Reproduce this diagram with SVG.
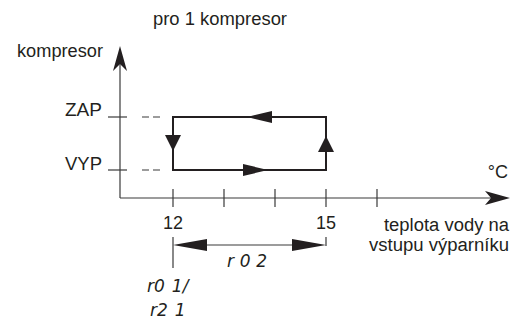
<svg xmlns="http://www.w3.org/2000/svg" width="524" height="322" viewBox="0 0 524 322">
<style>
.t{font-family:"Liberation Sans",Arial,sans-serif;font-size:18px;fill:#231f20}
.seg{font-family:"DejaVu Sans","Liberation Sans",sans-serif;font-style:italic;font-size:17px;fill:#231f20}
.ax{stroke:#3a3a3a;stroke-width:1.2;fill:none}
.loop{stroke:#231f20;stroke-width:2;fill:none}
.ah{fill:#231f20;stroke:none}
</style>
<rect width="524" height="322" fill="#fff"/>
<g id="axes">
<line class="ax" x1="120" y1="198" x2="120" y2="60"/>
<polygon class="ah" points="120,46 113,71 120,64 127,71"/>
<line class="ax" x1="120" y1="198" x2="500" y2="198"/>
<polygon class="ah" points="510,198 485,191 491,198 485,205"/>
<line class="ax" x1="108" y1="117" x2="127" y2="117"/>
<line class="ax" x1="108" y1="170" x2="127" y2="170"/>
<line class="ax" x1="142" y1="117" x2="160" y2="117" stroke-dasharray="7 4"/>
<line class="ax" x1="142" y1="170" x2="160" y2="170" stroke-dasharray="7 4"/>
<line class="ax" x1="173" y1="189" x2="173" y2="207"/>
<line class="ax" x1="224" y1="189" x2="224" y2="207"/>
<line class="ax" x1="275" y1="189" x2="275" y2="207"/>
<line class="ax" x1="326" y1="189" x2="326" y2="207"/>
<line class="ax" x1="377" y1="189" x2="377" y2="207"/>
</g>
<g id="hysteresis-loop">
<rect class="loop" x="173" y="117" width="153" height="53"/>
<polygon class="ah" points="173,151 165,135 181,135"/>
<polygon class="ah" points="326,136 318,152 334,152"/>
<polygon class="ah" points="247,117 272,111 272,123"/>
<polygon class="ah" points="268,170 243,164 243,176"/>
</g>
<g id="dimension-r02">
<line class="ax" x1="173" y1="237" x2="173" y2="268"/>
<line class="ax" x1="326" y1="237" x2="326" y2="246"/>
<line class="ax" x1="180" y1="245" x2="320" y2="245"/>
<polygon class="ah" points="173,245 207,239 207,251"/>
<polygon class="ah" points="326,245 292,239 292,251"/>
</g>
<g id="labels">
<text class="t" x="220" y="25" text-anchor="middle" textLength="134" lengthAdjust="spacingAndGlyphs">pro 1 kompresor</text>
<text class="t" x="17" y="57" textLength="86" lengthAdjust="spacingAndGlyphs">kompresor</text>
<text class="t" x="102" y="116" text-anchor="end" textLength="37" lengthAdjust="spacingAndGlyphs">ZAP</text>
<text class="t" x="102" y="170" text-anchor="end" textLength="37" lengthAdjust="spacingAndGlyphs">VYP</text>
<text class="t" x="508" y="178" text-anchor="end">°C</text>
<text class="t" x="173" y="229" text-anchor="middle" textLength="20" lengthAdjust="spacingAndGlyphs">12</text>
<text class="t" x="326" y="229" text-anchor="middle" textLength="20" lengthAdjust="spacingAndGlyphs">15</text>
<text class="t" x="509" y="231" text-anchor="end" textLength="125" lengthAdjust="spacingAndGlyphs">teplota vody na</text>
<text class="t" x="509" y="251" text-anchor="end" textLength="140" lengthAdjust="spacingAndGlyphs">vstupu výparníku</text>
<text class="seg" x="227" y="267" textLength="40" lengthAdjust="spacing">r02</text>
<text class="seg" x="147" y="292">r0<tspan dx="7">1/</tspan></text>
<text class="seg" x="150" y="316">r2<tspan dx="7">1</tspan></text>
</g>
</svg>
